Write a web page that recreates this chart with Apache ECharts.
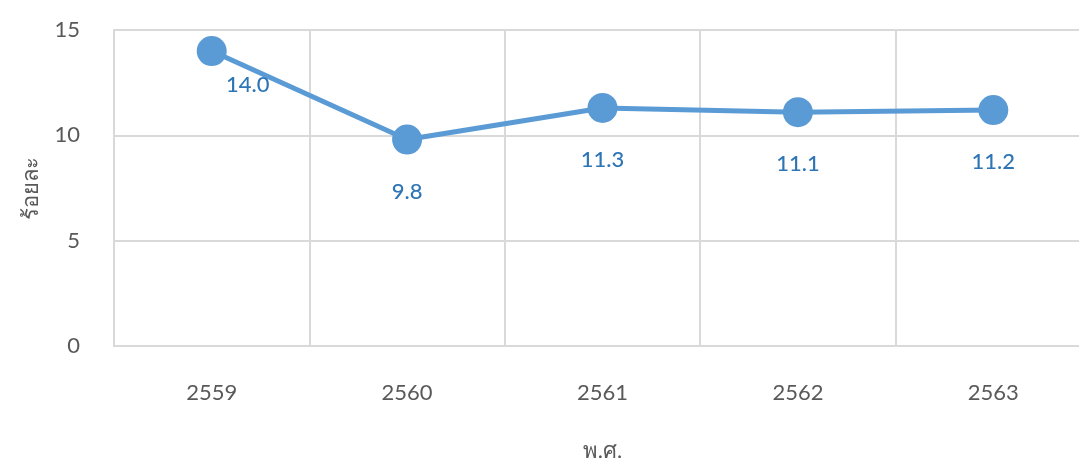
<!DOCTYPE html>
<html>
<head>
<meta charset="utf-8">
<script src="https://cdn.jsdelivr.net/npm/echarts@6/dist/echarts.min.js"></script>
<style>
  html, body { margin: 0; padding: 0; background: #fff; }
  #chart { width: 1079px; height: 459px; }
</style>
</head>
<body>
<div id="chart"></div>
<script>
// ข้อมูล
const years = ['2559', '2560', '2561', '2562', '2563'];
const percents = [14.0, 9.8, 11.3, 11.1, 11.2];
const yTicks = [0, 5, 10, 15];

const chart = echarts.init(document.getElementById('chart'));

const fontFam = 'Lato, "Open Sans", "DejaVu Sans", sans-serif';

// the first label sits to the right of its point
const seriesData = percents.map((v, i) => {
    if (i === 0) {
        return { value: v, label: { position: 'bottom', offset: [36, -18] } };
    }
    return v;
});

const options = {
    animation: false,
    grid: {
        left: 114,
        right: -12,
        top: 30,
        bottom: 113,
        outerBoundsMode: 'none',
        containLabel: false
    },
    xAxis: {
        type: 'category',
        data: years,
        boundaryGap: true,
        name: 'พ.ศ.',
        nameLocation: 'middle',
        nameGap: 94,
        nameTextStyle: { color: '#595959', fontSize: 22, fontFamily: fontFam },
        axisLine: { show: true, lineStyle: { color: '#D9D9D9', width: 2 } },
        axisTick: { show: false },
        axisLabel: { color: '#595959', fontSize: 22, margin: 36, fontFamily: fontFam },
        splitLine: { show: true, lineStyle: { color: '#D9D9D9', width: 2 } }
    },
    yAxis: {
        type: 'value',
        min: yTicks[0],
        max: yTicks[yTicks.length - 1],
        interval: 5,
        name: 'ร้อยละ',
        nameLocation: 'middle',
        nameGap: 72,
        nameRotate: 90,
        nameTextStyle: { color: '#595959', fontSize: 22, fontFamily: fontFam },
        axisLine: { show: true, lineStyle: { color: '#D9D9D9', width: 2 } },
        axisTick: { show: false },
        axisLabel: { color: '#595959', fontSize: 22, margin: 34, fontFamily: fontFam },
        splitLine: { show: true, lineStyle: { color: '#D9D9D9', width: 2 } }
    },
    series: [
        {
            type: 'line',
            data: seriesData,
            symbol: 'circle',
            symbolSize: 30,
            lineStyle: { color: '#5B9BD5', width: 5 },
            itemStyle: { color: '#5B9BD5' },
            label: {
                show: true,
                position: 'bottom',
                distance: 26,
                color: '#2E75B6',
                fontSize: 22,
                fontWeight: 500,
                fontFamily: fontFam,
                formatter: p => p.value.toFixed(1)
            }
        }
    ]
};

chart.setOption(options);
</script>
</body>
</html>
